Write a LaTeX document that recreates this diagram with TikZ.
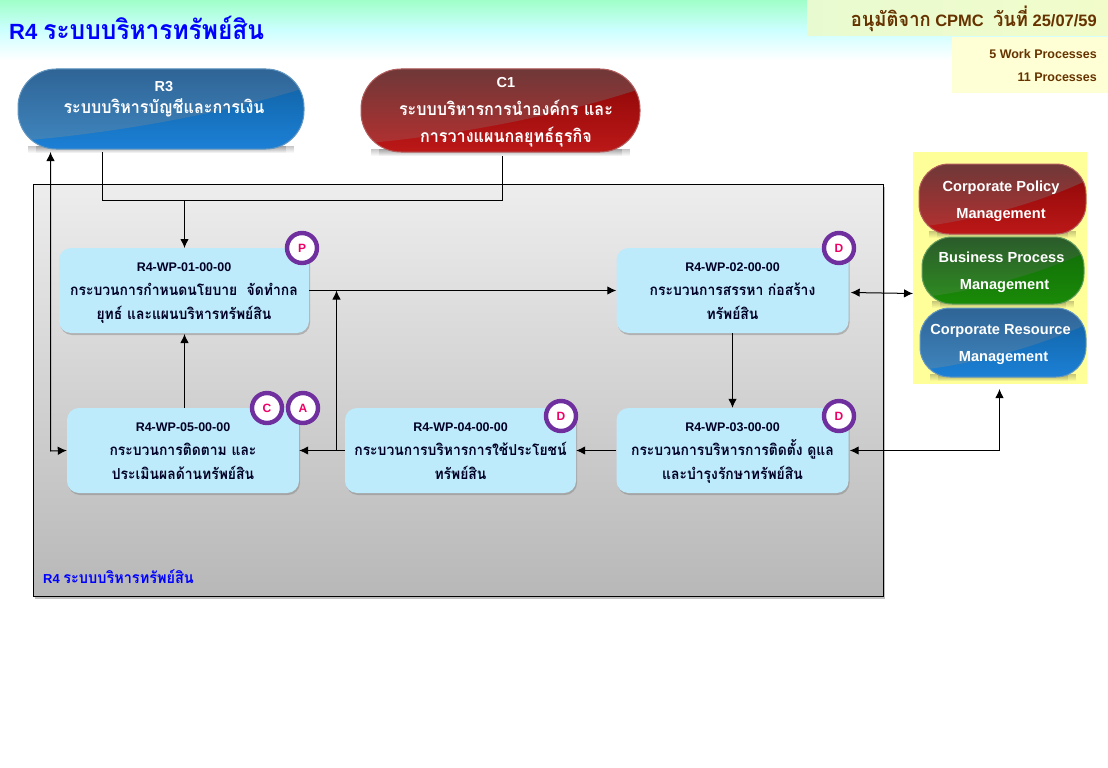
\documentclass[tikz,border=0pt]{standalone}
\usepackage{fontspec}
\setmainfont{Liberation Sans}
\newfontfamily\thaifont[Script=Thai,Scale=1.21,FakeStretch=0.92]{Loma}
\usetikzlibrary{arrows.meta,shadows,calc,fadings}
\newcommand\Th[1]{{\thaifont #1}}
\definecolor{boxblue}{HTML}{BDEBFB}
\definecolor{badgepurple}{HTML}{6F2F9F}
\definecolor{badgetext}{HTML}{EE0066}
\definecolor{brownink}{HTML}{663300}
\definecolor{bluegA}{HTML}{2F6496}\definecolor{bluegB}{HTML}{3E84BC}
\definecolor{bluelA}{HTML}{0F5F9F}\definecolor{bluelB}{HTML}{1C80D6}
\definecolor{redgA}{HTML}{6F3838}\definecolor{redgB}{HTML}{B03030}
\definecolor{redlA}{HTML}{8A0505}\definecolor{redlB}{HTML}{BC1818}
\definecolor{greengA}{HTML}{2B5B2B}\definecolor{greengB}{HTML}{2E8A20}
\definecolor{greenlA}{HTML}{106A08}\definecolor{greenlB}{HTML}{1A8A08}
\definecolor{bandtop}{HTML}{A0FFC8}\definecolor{bandmid}{HTML}{CCFFFF}
\definecolor{approveA}{HTML}{E8FBD0}\definecolor{approveB}{HTML}{F2FCCB}
\definecolor{countbox}{HTML}{FFFFD5}\definecolor{yellowpanel}{HTML}{FFFF99}
\tikzset{
  wpbox/.style={draw=none,fill=boxblue,rounded corners=12pt,minimum height=85pt,inner sep=0pt,align=center,
    font=\bfseries\fontsize{12.5}{24}\selectfont,text=black!85!blue,
    drop shadow={shadow xshift=1pt,shadow yshift=-2pt,opacity=.45}},
  badge/.style={circle,draw=badgepurple,line width=4.4pt,fill=white,minimum size=30pt,inner sep=0pt,
    text=badgetext,font=\bfseries\fontsize{12}{12}\selectfont,
    drop shadow={shadow xshift=1.5pt,shadow yshift=-1.5pt,opacity=.5}},
  conn/.style={draw=black,line width=1pt},
  tip/.style={-{Latex[length=9pt,width=8.5pt]}},
  tips/.style={{Latex[length=9pt,width=8.5pt]}-{Latex[length=9pt,width=8.5pt]}},
  pilltext/.style={inner sep=0pt,align=center,text=white},
}
% x1 y1 x2 y2 radius | gloss top, gloss bottom, lower top, lower bottom
\newcommand\glosspill[9]{%
  \fill[black,opacity=.22,path fading=south] (#1+10,#4-3) rectangle (#3-10,#4+4);
  \fill[black,opacity=.18,path fading=south] (#1+18,#4-3) rectangle (#3-18,#4+4);
  \begin{scope}
    \clip[rounded corners=#5pt] (#1,#2) rectangle (#3,#4);
    \shade[top color=#8,bottom color=#9] (#1,#2) rectangle (#3,#4);
    \shade[top color=#6,bottom color=#7]
      (#1,#2) -- (#3,#2) -- (#3,{#2+0.24*(#4-#2)})
      .. controls ({#1+0.72*(#3-#1)},{#2+0.55*(#4-#2)}) and ({#1+0.35*(#3-#1)},{#2+0.80*(#4-#2)}) .. (#1,{#2+0.90*(#4-#2)}) -- cycle;
  \end{scope}
  \draw[#8!65!white,line width=1pt,rounded corners=#5pt] (#1,#2) rectangle (#3,#4);
}
\begin{document}
\begin{tikzpicture}[x=1pt,y=-1pt]
\useasboundingbox (0,0) rectangle (1108,768);
\fill[white] (0,0) rectangle (1108,768);
% top band
\shade[top color=bandtop,bottom color=bandmid] (0,0) rectangle (1108,30);
\shade[top color=bandmid,bottom color=white] (0,30) rectangle (1108,60);
\node[anchor=west,inner sep=0pt,text=blue,font=\bfseries\fontsize{22}{24}\selectfont] (title) at (9,27.5) {R4 \Th{ระบบบริหารทรัพย์สิน}};
% approval boxes
\shade[left color=approveA,right color=approveB] (807,1) rectangle (1108,36);
\fill[countbox] (952,37) rectangle (1108,93);
\node[anchor=east,inner sep=0pt,text=brownink,font=\bfseries\fontsize{16.5}{18}\selectfont] (approve) at (1097,18.5) {\Th{อนุมัติจาก} CPMC\ \ \Th{วันที่} 25/07/59};
\node[anchor=east,inner sep=0pt,text=brownink,font=\bfseries\fontsize{12.5}{14}\selectfont] (wpcount) at (1097,54) {5 Work Processes};
\node[anchor=east,inner sep=0pt,text=brownink,font=\bfseries\fontsize{12.5}{14}\selectfont] (pcount) at (1097,77) {11 Processes};
% main panel
\path[top color=black!7,bottom color=black!28,draw=black,line width=1pt,
  drop shadow={shadow xshift=1.5pt,shadow yshift=-2pt,opacity=.5}] (33.5,184.5) rectangle (883.5,596.5);
\node[anchor=west,inner sep=0pt,text=blue,font=\bfseries\fontsize{13}{14}\selectfont] (paneltitle) at (43,577) {R4 \Th{ระบบบริหารทรัพย์สิน}};
% R3 and C1
\glosspill{18}{69}{304}{149}{38}{bluegA}{bluegB}{bluelA}{bluelB}
\node[pilltext,font=\bfseries\fontsize{14.5}{21}\selectfont] (r3) at (164,98) {\strut R3\\\strut\Th{ระบบบริหารบัญชีและการเงิน}};
\coordinate (r3out) at (102.5,152);
\coordinate (r3in) at (50.5,152);
\glosspill{361}{69}{640}{152}{40}{redgA}{redgB}{redlA}{redlB}
\node[pilltext,font=\bfseries\fontsize{14.5}{27.5}\selectfont] (c1) at (506,109.5) {\strut C1\\\strut\Th{ระบบบริหารการนำองค์กร และ}\\\strut\Th{การวางแผนกลยุทธ์ธุรกิจ}};
\coordinate (c1out) at (502.5,156);
% yellow panel
\fill[yellowpanel] (913,152) rectangle (1087,384);
\coordinate (panelW) at (913,293.5);
\coordinate (panelS) at (999.5,389);
\glosspill{919}{164}{1086}{234}{30}{redgA}{redgB}{redlA}{redlB}
\node[pilltext,font=\bfseries\fontsize{14.6}{27}\selectfont] (cpm) at (1001,199.6) {\strut Corporate Policy\\\strut Management};
\glosspill{922}{237}{1084}{304}{30}{greengA}{greengB}{greenlA}{greenlB}
\node[pilltext,font=\bfseries\fontsize{14.6}{27}\selectfont] (bpm) at (1001.5,270.6) {\strut Business Process\\\strut\hspace*{6pt}Management};
\glosspill{920}{308}{1086}{377}{30}{bluegA}{bluegB}{bluelA}{bluelB}
\node[pilltext,font=\bfseries\fontsize{14.6}{27}\selectfont] (crm) at (1000.5,342.6) {\strut Corporate Resource\\\strut\hspace*{6pt}Management};
% work process boxes
\node[wpbox,minimum width=250pt] (wp1) at (184,290.5) {\strut R4-WP-01-00-00\\\strut\Th{กระบวนการกำหนดนโยบาย\ \ จัดทำกล}\\\strut\Th{ยุทธ์ และแผนบริหารทรัพย์สิน}};
\node[wpbox,minimum width=232pt] (wp2) at (732.5,290.5) {\strut R4-WP-02-00-00\\\strut\Th{กระบวนการสรรหา ก่อสร้าง}\\\strut\Th{ทรัพย์สิน}};
\node[wpbox,minimum width=232pt] (wp3) at (732.5,450.5) {\strut R4-WP-03-00-00\\\strut\Th{กระบวนการบริหารการติดตั้ง ดูแล}\\\strut\Th{และบำรุงรักษาทรัพย์สิน}};
\node[wpbox,minimum width=231pt] (wp4) at (460.5,450.5) {\strut R4-WP-04-00-00\\\strut\Th{กระบวนการบริหารการใช้ประโยชน์}\\\strut\Th{ทรัพย์สิน}};
\node[wpbox,minimum width=232pt] (wp5) at (183,450.5) {\strut R4-WP-05-00-00\\\strut\Th{กระบวนการติดตาม และ}\\\strut\Th{ประเมินผลด้านทรัพย์สิน}};
% badges
\node[badge] (bp) at (302,248) {P};
\node[badge] (bd2) at (839,248) {D};
\node[badge] (bd3) at (839,416) {D};
\node[badge] (bd4) at (561,416) {D};
\node[badge] (bc) at (267,408) {C};
\node[badge] (ba) at (303,408) {A};
% connectors
\coordinate (join) at (184.5,200.5);
\coordinate (wp1top) at (184.5,248);
\coordinate (wp5top) at (184.5,408);
\coordinate (wp1bot) at (184.5,334);
\draw[conn] (r3out) |- (join);
\draw[conn] (c1out) |- (join);
\draw[conn,tip] (join) -- (wp1top);
\draw[conn,tips] (r3in) -- (50.5,451) -- (wp5.west);
\draw[conn,tip] (wp5top) -- (wp1bot);
\draw[conn,tip] (wp1.east) -- (wp2.west);
\draw[conn,tip] (wp2.south) -- (wp3.north);
\draw[conn,tip] (wp3.west) -- (wp4.east);
\draw[conn,tip] (wp4.west) -- (wp5.east);
\coordinate (riser) at (336.5,450.5);
\draw[conn,tip] (riser) -- (336.5,290.5);
\draw[conn,tips] ($(wp2.east)+(2,2)$) -- (panelW);
\draw[conn,tips] ($(wp3.east)+(1,0)$) -| (panelS);
\end{tikzpicture}
\end{document}
